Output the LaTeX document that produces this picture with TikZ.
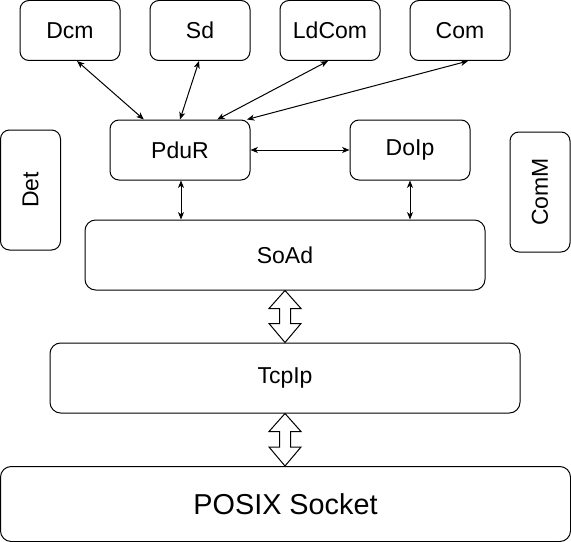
\documentclass[tikz,border=0pt]{standalone}
\usepackage{fontspec}
\setmainfont{Liberation Sans}
\usetikzlibrary{arrows.meta,calc}
\tikzset{
  box/.style={draw=black, line width=0.75pt, rounded corners=6.75pt, inner sep=0pt,
    font=\fontsize{17.25}{20}\selectfont},
  bigbox/.style={box, rounded corners=8pt},
  link/.style={line width=0.75pt, {Stealth[length=5.5pt,width=4.5pt,inset=1.5pt]}-{Stealth[length=5.5pt,width=4.5pt,inset=1.5pt]}},
  barrow/.style={draw=black, line width=0.75pt, fill=white, line join=miter}
}
\begin{document}
\begin{tikzpicture}[x=0.75pt,y=-0.75pt]
\useasboundingbox (0,0) rectangle (571,542);
% top row
\node[box, minimum width=75pt, minimum height=45pt] (dcm) at (70,30.5) {Dcm};
\node[box, minimum width=75pt, minimum height=45pt] (sd) at (200,30.5) {Sd};
\node[box, minimum width=75pt, minimum height=45pt] (ldcom) at (330,30.5) {LdCom};
\node[box, minimum width=75pt, minimum height=45pt] (com) at (460,30.5) {Com};
% middle
\node[box, minimum width=105pt, minimum height=45pt] (pdur) at (180,150) {PduR};
\node[box, minimum width=90pt, minimum height=45pt] (doip) at (410,150) {DoIp};
\node[box, minimum width=45pt, minimum height=90pt] (det) at (30.5,190) {\rotatebox{90}{Det}};
\node[box, minimum width=45pt, minimum height=90pt] (comm) at (540,192) {\rotatebox{90}{ComM}};
% layers
\node[bigbox, minimum width=300pt, minimum height=52.5pt] (soad) at (285,255) {SoAd};
\node[bigbox, minimum width=352.5pt, minimum height=52.5pt] (tcpip) at (285,378) {TcpIp};
\node[bigbox, minimum width=427.5pt, minimum height=56.25pt, font=\fontsize{21.6}{25}\selectfont] (posix) at (285.5,504) {POSIX Socket};
% fine connectors
\draw[link] ($(dcm.south west)!0.57!(dcm.south east)$) -- ($(pdur.north west)!0.243!(pdur.north east)$);
\draw[link] ($(sd.south west)!0.49!(sd.south east)$) -- (pdur.north);
\draw[link] ($(ldcom.south west)!0.48!(ldcom.south east)$) -- ($(pdur.north west)!0.764!(pdur.north east)$);
\draw[link] ($(com.south west)!0.58!(com.south east)$) -- ($(pdur.north west)!0.975!(pdur.north east)$);
\draw[link] (pdur.east) -- (doip.west);
\draw[link] ($(pdur.south)+(1,0)$) -- ($(pdur.south |- soad.north)+(1,0)$);
\draw[link] (doip.south) -- (doip.south |- soad.north);
% block arrows
\draw[barrow] (soad.south) -- ++(16,18) -- ++(-10.5,0) |- ($(tcpip.north)+(16,-19)$)
  -- (tcpip.north) -- ++(-16,-19) -- ++(10.5,0) |- ($(soad.south)+(-16,18)$) -- cycle;
\draw[barrow] (tcpip.south) -- ++(16,18) -- ++(-10.5,0) |- ($(posix.north)+(15.5,-19)$)
  -- ($(posix.north)+(-0.5,0)$) -- ++(-16,-19) -- ++(10.5,0) |- ($(tcpip.south)+(-16,18)$) -- cycle;
\end{tikzpicture}
\end{document}
